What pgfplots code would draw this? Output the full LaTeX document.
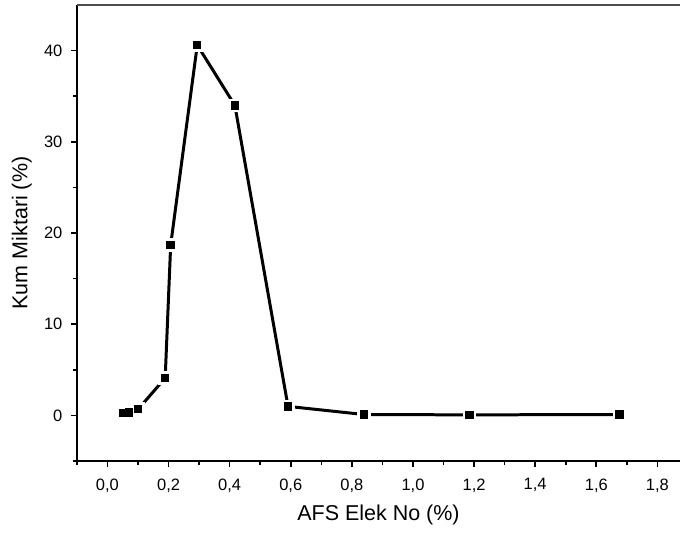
\documentclass[border=0pt]{standalone}
\usepackage{pgfplots}
\pgfplotsset{compat=1.18}
\usepackage{pgfplotstable}
\usepackage{fontspec}
\setmainfont{Liberation Sans}
\pgfplotstableread{
x y
0.05 0.26
0.071 0.33
0.101 0.70
0.189 4.1
0.207 18.7
0.294 40.6
0.417 34.0
0.591 0.99
0.839 0.10
1.185 0.06
1.676 0.10
}\datatab
\begin{document}
\begin{tikzpicture}
\begin{axis}[
  scale only axis,
  width=604pt, height=456.7pt,
  xmin=-0.1, xmax=1.874,
  ymin=-5, ymax=45,
  axis x line=bottom, axis y line=left,
  axis line style={-, line width=2pt, black},
  xtick={0,0.2,...,1.8},
  minor xtick={-0.1,0.1,0.3,0.5,0.7,0.9,1.1,1.3,1.5,1.7},
  ytick={0,10,20,30,40},
  minor ytick={-5,5,15,25,35},
  tick align=outside,
  major tick length=6pt, minor tick length=4pt,
  every tick/.style={line width=1.6pt, black},
  /pgf/number format/assume math mode=true,
  xticklabel style={font=\fontsize{16.5}{19}\selectfont, yshift=-8pt, /pgf/number format/use comma, /pgf/number format/fixed, /pgf/number format/fixed zerofill, /pgf/number format/precision=1},
  yticklabel style={font=\fontsize{16.5}{19}\selectfont, xshift=-5pt},
  xlabel={AFS Elek No (\%)},
  ylabel={Kum Miktari (\%)},
  xlabel style={font=\fontsize{21.5}{24}\selectfont, at={(axis description cs:0.5,-0.1189)}, anchor=center},
  ylabel style={font=\fontsize{21.5}{24}\selectfont, at={(axis description cs:-0.0915,0.5)}, anchor=center},
  clip=false,
]
\addplot[black, line width=3pt, no marks] table[x=x,y=y] {\datatab};
\addplot[white, only marks, mark=square*, mark size=6.3pt, mark options={fill=white, draw=white, line width=0pt}] table[x=x,y=y] {\datatab};
\addplot[black, only marks, mark=square*, mark size=3.7pt, mark options={fill=black, draw=black, line width=0pt}] table[x=x,y=y] {\datatab};
\draw[black!70, line width=2pt] (rel axis cs:0,1) -- (rel axis cs:1,1);
\end{axis}
\path (current axis.south west) ++(-77pt,-72.3pt) coordinate (bbA);
\path (current axis.north east) ++(0pt,5pt) coordinate (bbB);
\useasboundingbox (bbA) rectangle (bbB);
\end{tikzpicture}
\end{document}
